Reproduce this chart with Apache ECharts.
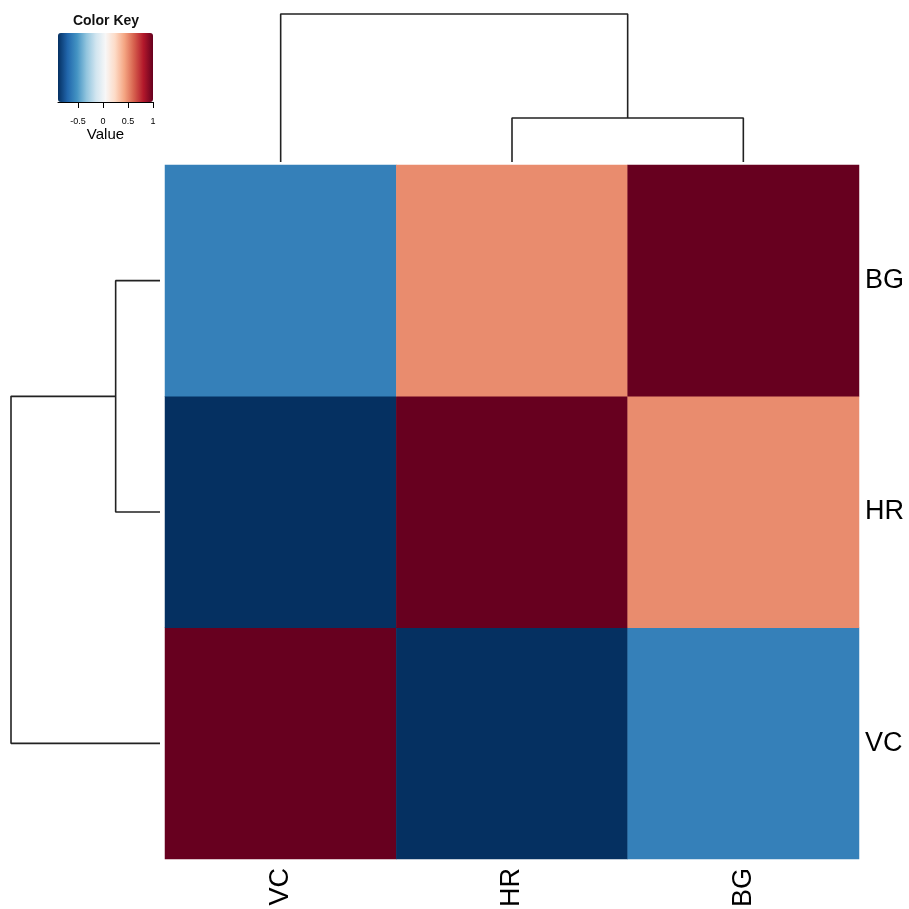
<!DOCTYPE html>
<html>
<head>
<meta charset="utf-8">
<script src="https://cdn.jsdelivr.net/npm/echarts@6/dist/echarts.min.js"></script>
<style>html,body{margin:0;padding:0;background:#fff}#c{width:909px;height:909px}</style>
</head>
<body>
<div id="c"></div>
<script>
// Column order (left to right) and row order (bottom to top)
const colLabels = ['VC', 'HR', 'BG'];
const rowLabels = ['VC', 'HR', 'BG'];
// Correlation values, one array per row (columns in colLabels order)
const rowVC = [1, -0.9, -0.6];
const rowHR = [-0.9, 1, 0.5];
const rowBG = [-0.6, 0.5, 1];
// Dendrogram merge heights: HR+BG first, then VC joins
const mergeHeights = [0.5, 1.68];
// Color key
const keyMin = -0.9, keyMax = 1;
const keyTicks = [-0.5, 0, 0.5, 1];
const palette = ['#053061','#2166AC','#4393C3','#92C5DE','#D1E5F0','#F7F7F7','#FDDBC7','#F4A582','#D6604D','#B2182B','#67001F'];

const rows = [rowVC, rowHR, rowBG];
const heatData = [];
rows.forEach((r, yi) => r.forEach((v, xi) => heatData.push([xi, yi, v])));

const h1 = mergeHeights[0], h2 = mergeHeights[1];
const mid = (1 + 2) / 2;
const topA = [[1, 0], [1, h1], [2, h1], [2, 0]];
const topB = [[0, 0], [0, h2], [mid, h2], [mid, h1]];
const leftA = topA.map(p => [p[1], p[0]]);
const leftB = topB.map(p => [p[1], p[0]]);

const lineStyle = { color: '#222', width: 1.6 };
const dendro = (data, xi, yi) => ({
  type: 'line', xAxisIndex: xi, yAxisIndex: yi, data: data,
  showSymbol: false, clip: false, silent: true, animation: false,
  lineStyle: lineStyle
});

const chart = echarts.init(document.getElementById('c'));
chart.setOption({
  animation: false,
  title: {
    text: 'Color Key', left: 106, top: 14, textAlign: 'center', padding: 0,
    textStyle: { fontFamily: 'Liberation Sans', fontSize: 14, fontWeight: 'bold', color: '#111' }
  },
  grid: [
    { left: 165, top: 165, width: 694, height: 694, outerBoundsMode: 'none', containLabel: false },
    { left: 165, top: 14, width: 694, height: 148, outerBoundsMode: 'none', containLabel: false },
    { left: 11, top: 165, width: 149, height: 694, outerBoundsMode: 'none', containLabel: false },
    { left: 58, top: 33, width: 95, height: 69, outerBoundsMode: 'none', containLabel: false }
  ],
  xAxis: [
    { type: 'category', gridIndex: 0, data: colLabels,
      axisLine: { show: false }, axisTick: { show: false }, splitLine: { show: false },
      axisLabel: { rotate: 90, margin: 9, fontSize: 27, color: '#000', fontFamily: 'Liberation Sans' } },
    { type: 'value', gridIndex: 1, min: -0.5, max: 2.5, show: false },
    { type: 'value', gridIndex: 2, min: 0, max: h2, inverse: true, show: false },
    { type: 'value', gridIndex: 3, min: keyMin, max: keyMax,
      axisLine: { show: true, lineStyle: { color: '#000', width: 1 } },
      axisTick: { show: true, length: 6, customValues: keyTicks, lineStyle: { color: '#000' } },
      axisLabel: { customValues: keyTicks, fontSize: 9, color: '#000', margin: 15, fontFamily: 'Liberation Sans',
        formatter: v => String(v) },
      splitLine: { show: false },
      name: 'Value', nameLocation: 'middle', nameGap: 24,
      nameTextStyle: { fontSize: 15, color: '#000', fontFamily: 'Liberation Sans' } }
  ],
  yAxis: [
    { type: 'category', gridIndex: 0, data: rowLabels, position: 'right',
      axisLine: { show: false }, axisTick: { show: false }, splitLine: { show: false },
      axisLabel: { margin: 6, fontSize: 27, color: '#000', fontFamily: 'Liberation Sans', padding: [3, 0, 0, 0] } },
    { type: 'value', gridIndex: 1, min: 0, max: h2, show: false },
    { type: 'value', gridIndex: 2, min: -0.5, max: 2.5, show: false },
    { type: 'value', gridIndex: 3, min: 0, max: 1, show: false }
  ],
  visualMap: {
    type: 'continuous', min: keyMin, max: keyMax, seriesIndex: 0,
    orient: 'horizontal', left: 58, top: 33, itemWidth: 69, itemHeight: 95,
    padding: 0, calculable: false, showLabel: false, hoverLink: false, text: null,
    inRange: { color: palette }
  },
  series: [
    { type: 'heatmap', xAxisIndex: 0, yAxisIndex: 0, data: heatData, silent: true,
      itemStyle: { borderWidth: 0 } },
    dendro(topA, 1, 1), dendro(topB, 1, 1),
    dendro(leftA, 2, 2), dendro(leftB, 2, 2),
    { type: 'line', xAxisIndex: 3, yAxisIndex: 3, data: [], silent: true }
  ]
});
</script>
</body>
</html>
